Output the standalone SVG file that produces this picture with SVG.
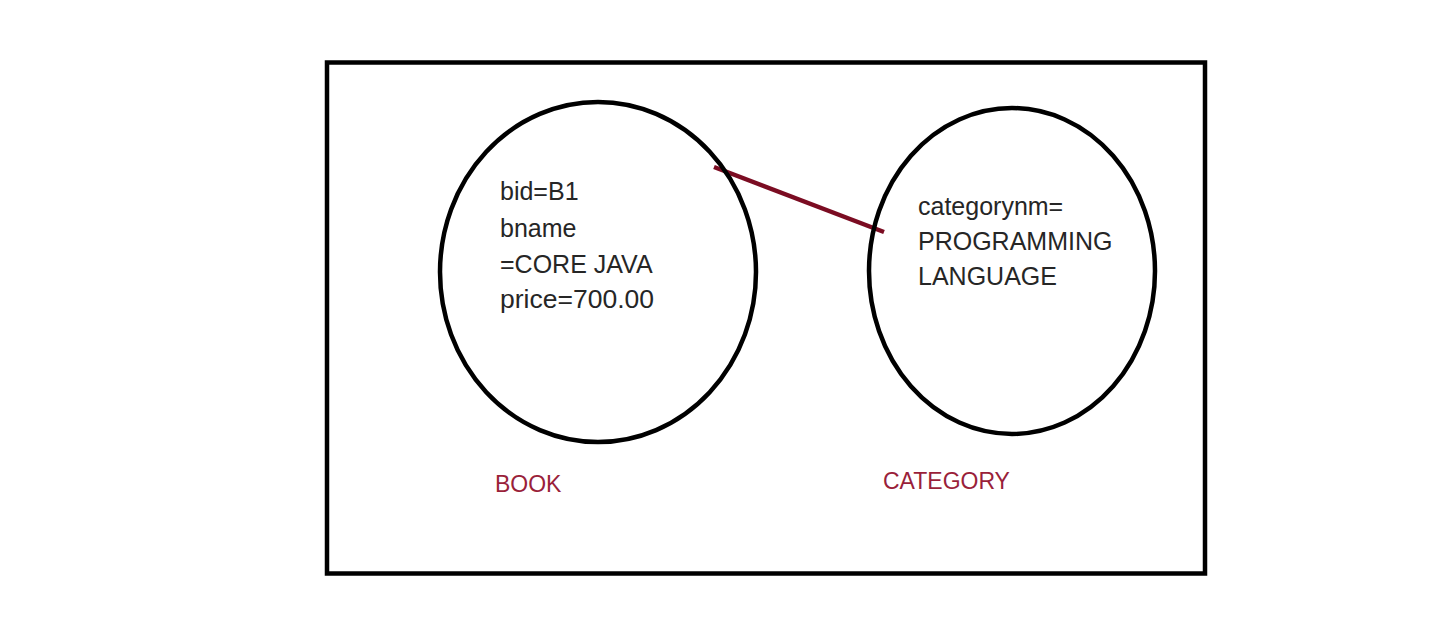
<svg xmlns="http://www.w3.org/2000/svg" width="1443" height="633" viewBox="0 0 1443 633">
<style>
.shape{fill:none;stroke:#000;stroke-width:4.5}
.body{font-family:"Liberation Sans",Arial,sans-serif;font-size:25px;fill:#262626}
.label{font-family:"Liberation Sans",Arial,sans-serif;font-size:23px;fill:#9a1f3a}
</style>
<rect width="1443" height="633" fill="#fff"/>
<rect id="frame" class="shape" x="327" y="62.5" width="878" height="511"/>
<g id="connectors">
<line x1="714" y1="167" x2="884" y2="232" stroke="#7b0c22" stroke-width="4.5"/>
</g>
<g id="book">
<ellipse class="shape" cx="598" cy="272" rx="158" ry="170"/>
<text class="body" x="500" y="200">bid=B1</text>
<text class="body" x="500" y="237">bname</text>
<text class="body" x="500" y="273">=CORE JAVA</text>
<text class="body" x="500" y="308" style="font-size:26.5px">price=700.00</text>
<text class="label" x="495" y="492">BOOK</text>
</g>
<g id="category">
<ellipse class="shape" cx="1012" cy="271" rx="143" ry="163"/>
<text class="body" x="918" y="215">categorynm=</text>
<text class="body" x="918" y="250">PROGRAMMING</text>
<text class="body" x="918" y="285">LANGUAGE</text>
<text class="label" x="883" y="489">CATEGORY</text>
</g>
</svg>
